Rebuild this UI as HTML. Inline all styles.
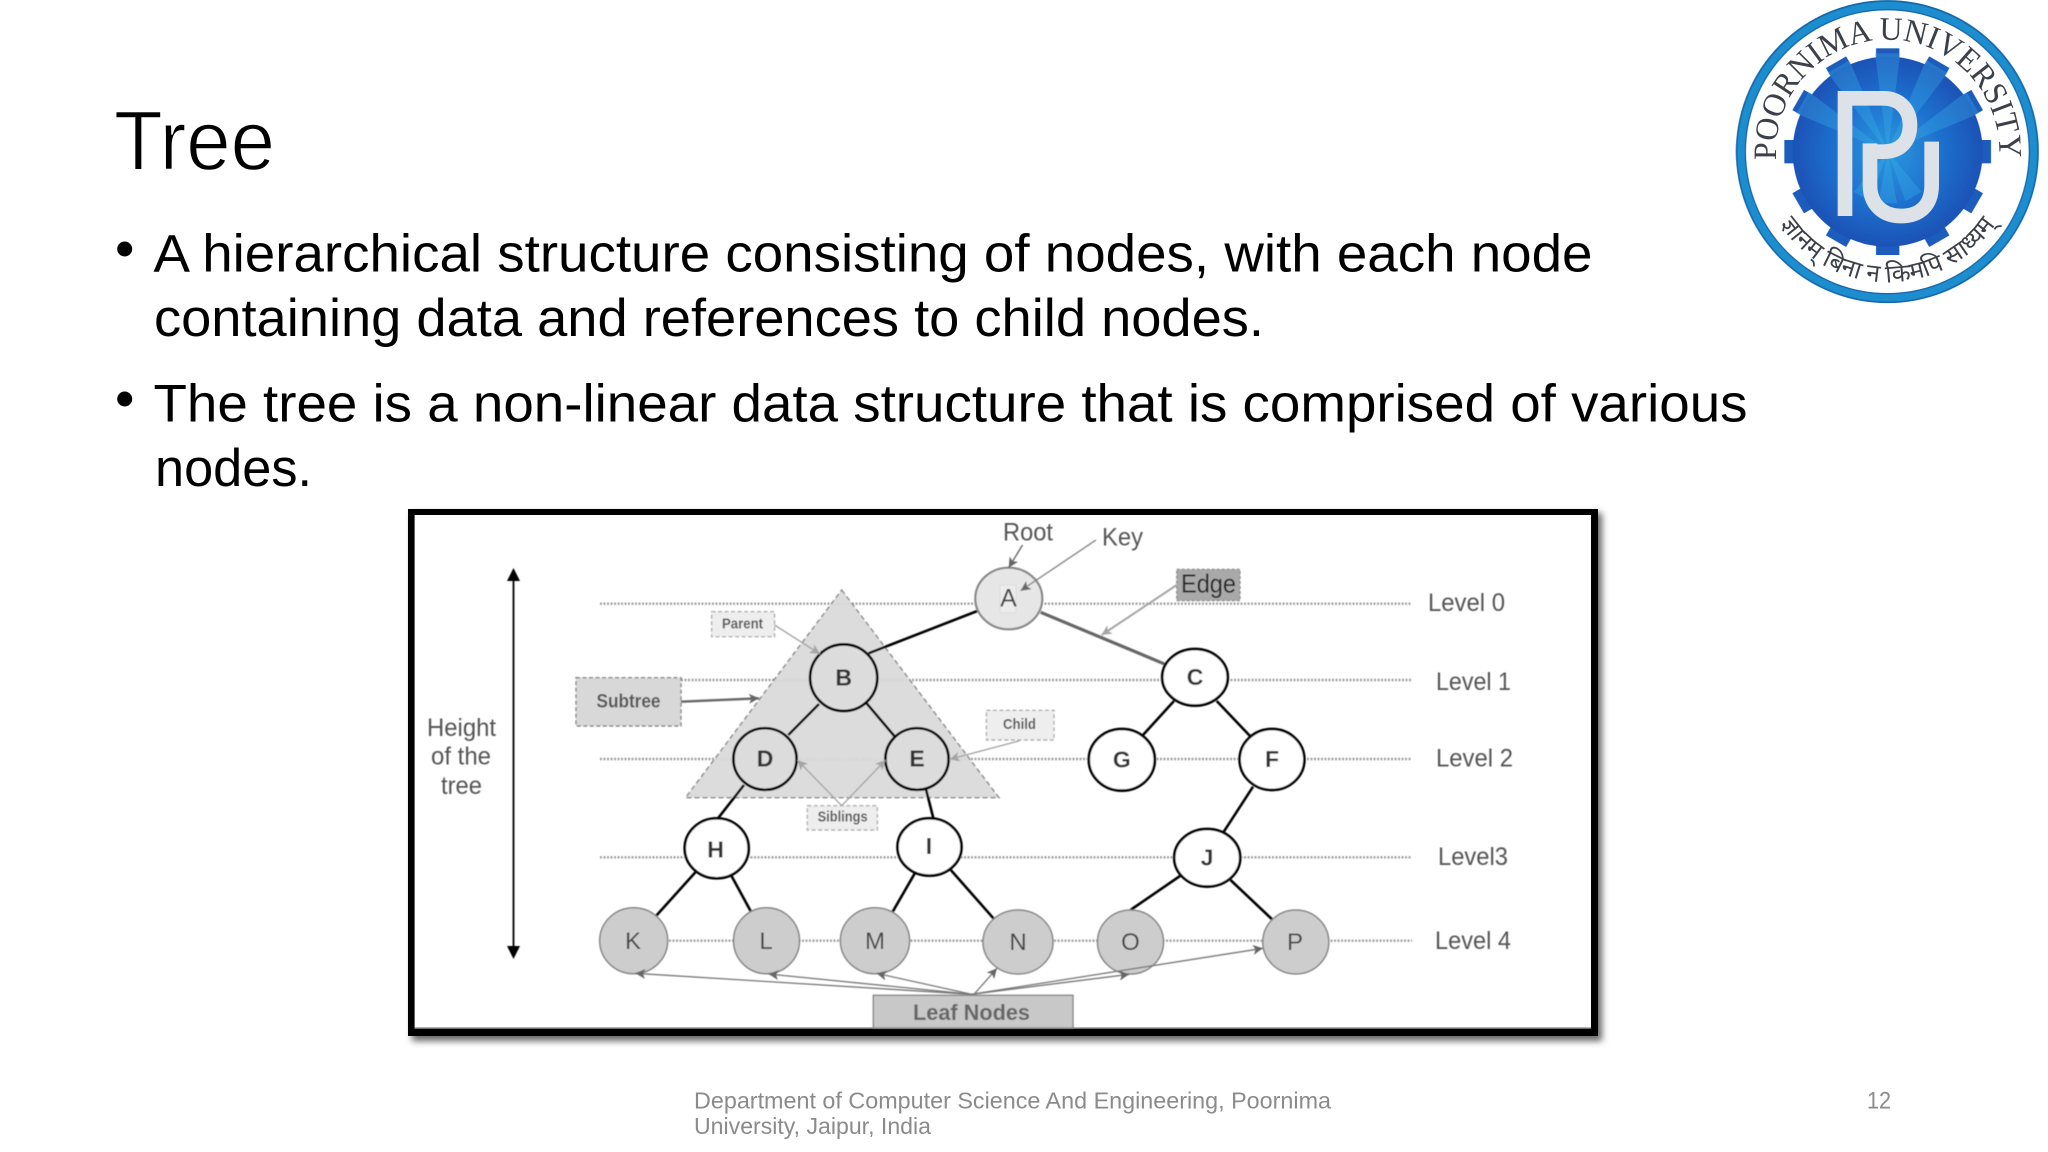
<!DOCTYPE html>
<html><head><meta charset="utf-8"><title>Tree</title>
<style>html,body{margin:0;padding:0;background:#fff;width:2048px;height:1152px;overflow:hidden}svg{display:block}
text{font-family:"Liberation Sans",sans-serif}</style></head><body>
<svg xmlns="http://www.w3.org/2000/svg" width="2048" height="1152" viewBox="0 0 2048 1152">
<defs>
<filter id="sh" x="-5%" y="-5%" width="110%" height="110%"><feGaussianBlur stdDeviation="3.5"/></filter>
<filter id="sf" x="-2%" y="-2%" width="104%" height="104%"><feGaussianBlur stdDeviation="0.45"/></filter>
<radialGradient id="gb" cx="0.5" cy="0.5" r="0.5"><stop offset="0" stop-color="#2b98de"/><stop offset="0.55" stop-color="#1f72cf"/><stop offset="1" stop-color="#1b52b6"/></radialGradient>
<marker id="g6" markerUnits="userSpaceOnUse" markerWidth="12" markerHeight="10" refX="10" refY="5" orient="auto"><path d="M0 0L10 5L0 10L2.5 5Z" fill="#666"/></marker>
<marker id="g9" markerUnits="userSpaceOnUse" markerWidth="12" markerHeight="10" refX="10" refY="5" orient="auto"><path d="M0 0L10 5L0 10L2.5 5Z" fill="#a5a5a5"/></marker>
<path id="arcTop" d="M169 480A335 335 0 1 1 837 480"/>
<path id="arcBot" d="M160 640A388 388 0 0 0 846 640"/>
</defs>

<!-- Title & body -->
<text x="114" y="169.5" font-size="84" textLength="161" lengthAdjust="spacingAndGlyphs" fill="#000" stroke="#fff" stroke-width="1.4" paint-order="fill stroke">Tree</text>
<circle cx="124.7" cy="249" r="7.5" fill="#000"/>
<circle cx="124.7" cy="399" r="7.5" fill="#000"/>
<g font-size="53" fill="#000">
<text x="153.5" y="271.7" textLength="1439" lengthAdjust="spacingAndGlyphs">A hierarchical structure consisting of nodes, with each node</text>
<text x="154" y="336" textLength="1110" lengthAdjust="spacingAndGlyphs">containing data and references to child nodes.</text>
<text x="153.5" y="421.7" textLength="1594" lengthAdjust="spacingAndGlyphs">The tree is a non-linear data structure that is comprised of various</text>
<text x="155" y="486" textLength="157" lengthAdjust="spacingAndGlyphs">nodes.</text>
</g>

<!-- Footer -->
<g font-size="23" fill="#8b8b8b">
<text x="694" y="1108.3" textLength="637" lengthAdjust="spacingAndGlyphs">Department of Computer Science And Engineering, Poornima</text>
<text x="694" y="1134" textLength="237" lengthAdjust="spacingAndGlyphs">University, Jaipur, India</text>
<text x="1867" y="1108.5" font-size="24" textLength="24" lengthAdjust="spacingAndGlyphs">12</text>
</g>

<!-- Logo -->
<g transform="translate(1720 0) scale(0.33333)" filter="url(#sf)">
<circle cx="502" cy="455" r="440" fill="#fff" stroke="#1e8ecf" stroke-width="26"/>
<circle cx="502" cy="455" r="452" fill="none" stroke="#1668ac" stroke-width="5"/>
<circle cx="502" cy="455" r="426" fill="none" stroke="#1668ac" stroke-width="4"/>
<g fill="#1b5cbc">
<rect x="468" y="145" width="70" height="620"/>
<rect x="468" y="145" width="70" height="620" transform="rotate(30 503 455)"/>
<rect x="468" y="145" width="70" height="620" transform="rotate(60 503 455)"/>
<rect x="468" y="145" width="70" height="620" transform="rotate(90 503 455)"/>
<rect x="468" y="145" width="70" height="620" transform="rotate(120 503 455)"/>
<rect x="468" y="145" width="70" height="620" transform="rotate(150 503 455)"/>
</g>
<circle cx="503" cy="455" r="285" fill="url(#gb)"/>
<g fill="#3db4ec" opacity="0.32">
<polygon points="503,455 465,160 541,160"/>
<polygon points="503,455 465,160 541,160" transform="rotate(30 503 455)"/>
<polygon points="503,455 465,160 541,160" transform="rotate(60 503 455)"/>
<polygon points="503,455 465,160 541,160" transform="rotate(-30 503 455)"/>
<polygon points="503,455 465,160 541,160" transform="rotate(-60 503 455)"/>
<polygon points="503,455 475,300 531,300" transform="rotate(150 503 455)"/>
<polygon points="503,455 475,300 531,300" transform="rotate(180 503 455)"/>
<polygon points="503,455 475,300 531,300" transform="rotate(210 503 455)"/>
</g>
<g fill="none" stroke="#dde2e9" stroke-width="44">
<path d="M375 648V295H490C545 295 570 335 570 375C570 420 545 455 490 455H430"/>
<path d="M450 430V555C450 615 490 648 543 648C600 648 635 615 635 555V425"/>
</g>
<text font-size="98" fill="#3a3f4a" style="font-family:'Liberation Serif',serif"><textPath href="#arcTop" textLength="1098" lengthAdjust="spacingAndGlyphs">POORNIMA UNIVERSITY</textPath></text>
<text font-size="74" fill="#3a3f4a"><textPath href="#arcBot" startOffset="50%" text-anchor="middle">ज्ञानम् बिना न किमपि साध्यम्</textPath></text>
</g>

<!-- Diagram frame -->
<rect x="412" y="513" width="1190" height="528" fill="#666" filter="url(#sh)"/>
<rect x="408" y="509" width="1190" height="527" fill="#000"/>
<rect x="414.6" y="515" width="1176.4" height="513" fill="#fff"/>
<line x1="414.6" y1="1028" x2="1591" y2="1028" stroke="#999" stroke-width="1.5"/>

<g filter="url(#sf)">
<!-- dotted level lines -->
<g stroke="#a0a0a0" stroke-width="2.4" stroke-dasharray="2 1.5" fill="none">
<line x1="600" y1="603.7" x2="1412" y2="603.7"/>
<line x1="681" y1="680" x2="1412" y2="680"/>
<line x1="600" y1="759" x2="1412" y2="759"/>
<line x1="600" y1="857.3" x2="1412" y2="857.3"/>
<line x1="634" y1="940.7" x2="1412" y2="940.7"/>
</g>
<!-- subtree triangle -->
<polygon points="841.7,590 999,797.7 685.5,797.7" fill="#d9d9d9" fill-opacity="0.92" stroke="#8a8a8a" stroke-width="1.4" stroke-dasharray="5 3"/>

<!-- height arrow -->
<line x1="513.5" y1="575" x2="513.5" y2="952" stroke="#000" stroke-width="1.8"/>
<polygon points="513.5,568 520,581 507,581" fill="#000"/>
<polygon points="513.5,959 520,946 507,946" fill="#000"/>
<g font-size="25" fill="#555">
<text x="427" y="736" textLength="69" lengthAdjust="spacingAndGlyphs">Height</text>
<text x="431" y="764.3" textLength="60" lengthAdjust="spacingAndGlyphs">of the</text>
<text x="441" y="794" textLength="41" lengthAdjust="spacingAndGlyphs">tree</text>
<text x="1003" y="540.7" textLength="50" lengthAdjust="spacingAndGlyphs">Root</text>
<text x="1102" y="545.7" textLength="41" lengthAdjust="spacingAndGlyphs">Key</text>
<text x="1428" y="611" textLength="77" lengthAdjust="spacingAndGlyphs">Level 0</text>
<text x="1436" y="690" textLength="75" lengthAdjust="spacingAndGlyphs">Level 1</text>
<text x="1436" y="766.7" textLength="77" lengthAdjust="spacingAndGlyphs">Level 2</text>
<text x="1438" y="865" textLength="70" lengthAdjust="spacingAndGlyphs">Level3</text>
<text x="1435" y="949" textLength="76" lengthAdjust="spacingAndGlyphs">Level 4</text>
</g>

<!-- edges -->
<g stroke="#000" stroke-width="2.6" fill="none">
<line x1="977.3" y1="611" x2="868.6" y2="653.3"/>
<line x1="819" y1="704" x2="788.3" y2="735"/>
<line x1="866.6" y1="703.3" x2="894.3" y2="736"/>
<line x1="744" y1="785" x2="718" y2="818.3"/>
<line x1="926" y1="789.3" x2="933.8" y2="820"/>
<line x1="1174" y1="701" x2="1143" y2="735"/>
<line x1="1216.7" y1="701" x2="1250" y2="736"/>
<line x1="1253" y1="786.7" x2="1223.4" y2="832.3"/>
<line x1="695.4" y1="872.3" x2="656.2" y2="915.7"/>
<line x1="731.4" y1="875.7" x2="751" y2="911.7"/>
<line x1="914.8" y1="873.3" x2="892.7" y2="911.7"/>
<line x1="950.8" y1="870" x2="994.3" y2="919.3"/>
<line x1="1180" y1="876" x2="1130.5" y2="910"/>
<line x1="1230.5" y1="880" x2="1272.8" y2="920"/>
</g>
<line x1="1040.7" y1="612.3" x2="1165.3" y2="664.3" stroke="#666" stroke-width="3.2"/>

<!-- nodes -->
<ellipse cx="1008.8" cy="598.5" rx="33.5" ry="30.8" fill="#e6e6e6" stroke="#888" stroke-width="2.2"/>
<rect x="1000" y="585" width="16" height="28" fill="#ececec" stroke="#ddd"/>
<g fill="#dcdcdc" stroke="#000" stroke-width="2.7">
<ellipse cx="843.7" cy="677.7" rx="33.6" ry="33.3"/>
<ellipse cx="765" cy="759" rx="31.6" ry="30.8"/>
<ellipse cx="917" cy="759" rx="31.6" ry="30.8"/>
</g>
<g fill="#fff" stroke="#000" stroke-width="2.7">
<ellipse cx="1195" cy="677.3" rx="32.8" ry="28.3"/>
<ellipse cx="1121.8" cy="759.8" rx="33" ry="30.8"/>
<ellipse cx="1272" cy="759.5" rx="32.4" ry="30.5"/>
<ellipse cx="716.7" cy="848.3" rx="32" ry="30"/>
<ellipse cx="929.5" cy="847" rx="32" ry="28.7"/>
<ellipse cx="1207.2" cy="857.8" rx="33" ry="28.8"/>
</g>
<g fill="#cdcdcd" stroke="#858585" stroke-width="1.5">
<ellipse cx="633.7" cy="940.7" rx="34" ry="33"/>
<ellipse cx="766.5" cy="940.7" rx="33" ry="33"/>
<ellipse cx="875" cy="940.7" rx="34.6" ry="33"/>
<ellipse cx="1018" cy="942" rx="35" ry="32"/>
<ellipse cx="1130.5" cy="942" rx="33" ry="32"/>
<ellipse cx="1295.8" cy="942" rx="33" ry="32"/>
</g>

<!-- letters -->
<g font-size="23" font-weight="700" fill="#333" text-anchor="middle">
<text x="843.7" y="685.7">B</text>
<text x="765" y="766.7">D</text>
<text x="917" y="766.7">E</text>
<text x="1195" y="685">C</text>
<text x="1121.8" y="767.3">G</text>
<text x="1272" y="767">F</text>
<text x="715.5" y="857.3">H</text>
<text x="929" y="854">I</text>
<text x="1207" y="865.3">J</text>
</g>
<g font-size="24" fill="#444" text-anchor="middle">
<text x="1008.5" y="606.7" font-size="25">A</text>
<text x="633" y="949">K</text>
<text x="766" y="949">L</text>
<text x="875" y="949">M</text>
<text x="1018" y="950">N</text>
<text x="1130.5" y="950">O</text>
<text x="1295" y="950">P</text>
</g>

<!-- boxed labels -->
<g fill="#eeeeee" stroke="#b0b0b0" stroke-width="1.4" stroke-dasharray="4 2.5">
<rect x="711.6" y="611.7" width="63" height="25"/>
<rect x="807.3" y="805.7" width="70" height="24.3"/>
<rect x="986.4" y="710.3" width="67.6" height="29.7"/>
</g>
<rect x="576" y="677.7" width="105" height="48.3" fill="#d8d8d8" stroke="#888" stroke-width="1.4" stroke-dasharray="4 2.5"/>
<rect x="1176.7" y="569.3" width="63.3" height="31.4" fill="#a9a9a9" stroke="#888" stroke-width="1.2" stroke-dasharray="3 2"/>
<g font-size="15" font-weight="700" fill="#555">
<text x="722" y="628.3" textLength="41" lengthAdjust="spacingAndGlyphs">Parent</text>
<text x="817.6" y="821.7" textLength="50" lengthAdjust="spacingAndGlyphs">Siblings</text>
<text x="1003" y="729" textLength="33" lengthAdjust="spacingAndGlyphs">Child</text>
<text x="596.5" y="707.3" font-size="19" textLength="64" lengthAdjust="spacingAndGlyphs">Subtree</text>
</g>
<text x="1181" y="592.3" font-size="26" fill="#222" textLength="55" lengthAdjust="spacingAndGlyphs">Edge</text>

<!-- annotation arrows -->
<g stroke="#a5a5a5" stroke-width="1.4" fill="none">
<line x1="774.5" y1="625" x2="820" y2="654" marker-end="url(#g9)"/>
<line x1="841.7" y1="805.7" x2="797.4" y2="760" marker-end="url(#g9)"/>
<line x1="841.7" y1="805.7" x2="885.6" y2="760" marker-end="url(#g9)"/>
<line x1="1019.8" y1="740.7" x2="949.6" y2="759.3" marker-end="url(#g9)"/>
<line x1="1096" y1="540" x2="1020.6" y2="590.7" stroke="#8a8a8a" marker-end="url(#g6)"/>
<line x1="1176.7" y1="585" x2="1101.6" y2="635" stroke-width="2" marker-end="url(#g9)"/>
</g>
<line x1="1022.5" y1="545" x2="1008.7" y2="567.7" stroke="#666" stroke-width="1.4" marker-end="url(#g6)"/>
<line x1="681" y1="701.7" x2="759" y2="698.3" stroke="#666" stroke-width="2.4" marker-end="url(#g6)"/>

<!-- leaf box & arrows -->
<rect x="873.3" y="995.3" width="199.7" height="32.7" fill="#c8c8c8" stroke="#888" stroke-width="1.4"/>
<text x="913" y="1020" font-size="22" font-weight="700" fill="#666" textLength="117" lengthAdjust="spacingAndGlyphs">Leaf Nodes</text>
<g stroke="#777" stroke-width="1.3" fill="none">
<line x1="971.4" y1="994.3" x2="635.3" y2="973.3" marker-end="url(#g6)"/>
<line x1="971.4" y1="994.3" x2="768.5" y2="974" marker-end="url(#g6)"/>
<line x1="971.4" y1="994.3" x2="876.5" y2="973.3" marker-end="url(#g6)"/>
<line x1="974" y1="994.3" x2="997" y2="968.3" marker-end="url(#g6)"/>
<line x1="971.4" y1="994.3" x2="1129.3" y2="974.3" marker-end="url(#g6)"/>
<line x1="971.4" y1="994.3" x2="1263" y2="948.3" marker-end="url(#g6)"/>
</g>
</g>
</svg>
</body></html>
